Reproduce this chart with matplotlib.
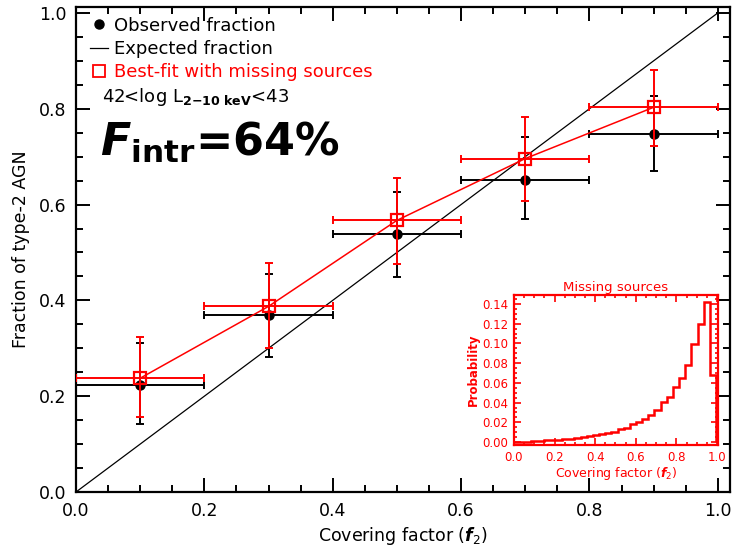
import numpy as np
import matplotlib.pyplot as plt
from matplotlib.lines import Line2D
from matplotlib.ticker import MultipleLocator

plt.rcParams['font.family'] = ['DejaVu Sans']
plt.rcParams['mathtext.fontset'] = 'dejavusans'

# Main panel data
f2 = [0.1, 0.3, 0.5, 0.7, 0.9]
f2_err = [0.1, 0.1, 0.1, 0.1, 0.1]

obs_frac = [0.223, 0.369, 0.5375, 0.652, 0.747]
obs_lo = [0.142, 0.281, 0.448, 0.569, 0.669]
obs_hi = [0.310, 0.456, 0.627, 0.742, 0.827]

fit_frac = [0.2375, 0.3875, 0.567, 0.696, 0.803]
fit_lo = [0.156, 0.300, 0.475, 0.608, 0.723]
fit_hi = [0.323, 0.477, 0.656, 0.783, 0.881]

expected = [0.0, 1.0]

# Inset histogram (missing sources)
hist_edges = np.linspace(-0.005, 0.995, 34)
hist_prob = [0.0, 0.0001, 0.0004, 0.0008, 0.0012, 0.0016, 0.002, 0.0025,
             0.003, 0.0036, 0.0042, 0.005, 0.006, 0.0068, 0.0078, 0.0088,
             0.0102, 0.0129, 0.0142, 0.018, 0.0203, 0.0231, 0.0278, 0.0322,
             0.0407, 0.0458, 0.0553, 0.0645, 0.078, 0.099, 0.120, 0.1417,
             0.068]

fig = plt.figure(figsize=(7.35, 5.52), dpi=100)
ax = fig.add_axes([0.1034, 0.1087, 0.8898, 0.8783])

ax.plot(expected, expected, color='black', lw=0.9, zorder=2)

obs_err = [np.subtract(obs_frac, obs_lo), np.subtract(obs_hi, obs_frac)]
ax.errorbar(f2, obs_frac, xerr=f2_err, yerr=obs_err, fmt='o', color='black',
            ms=6.5, elinewidth=1.4, capsize=3, capthick=1.4, zorder=3)

fit_err = [np.subtract(fit_frac, fit_lo), np.subtract(fit_hi, fit_frac)]
ax.errorbar(f2, fit_frac, xerr=f2_err, yerr=fit_err, fmt='none', ecolor='red',
            elinewidth=1.4, capsize=3, capthick=1.4, zorder=4)
ax.plot(f2, fit_frac, color='red', lw=1.1, marker='s', ms=9, mfc='none',
        mec='red', mew=1.6, zorder=5)

ax.set_xlim(0, 1.019)
ax.set_ylim(0, 1.012)
ax.xaxis.set_major_locator(MultipleLocator(0.2))
ax.yaxis.set_major_locator(MultipleLocator(0.2))
ax.xaxis.set_minor_locator(MultipleLocator(0.05))
ax.yaxis.set_minor_locator(MultipleLocator(0.05))
ax.xaxis.set_major_formatter(lambda v, p: f'{v:.1f}')
ax.yaxis.set_major_formatter(lambda v, p: f'{v:.1f}')
ax.tick_params(which='both', direction='in', top=True, right=True,
               width=1.4, labelsize=12.5)
ax.tick_params(which='major', length=10, pad=7)
ax.tick_params(which='minor', length=5)
for s in ax.spines.values():
    s.set_linewidth(1.6)

ax.set_xlabel(r'Covering factor ($\mathbfit{f}_{2}$)', fontsize=12.5, labelpad=4)
ax.set_ylabel('Fraction of type-2 AGN', fontsize=12.5, labelpad=6)

handles = [
    Line2D([], [], ls='none', marker='o', color='black', ms=6.5),
    Line2D([], [], color='black', lw=0.9),
    Line2D([], [], ls='none', marker='s', mfc='none', mec='red', mew=1.3, ms=9),
]
leg = ax.legend(handles, ['Observed fraction', 'Expected fraction',
                          'Best-fit with missing sources'],
                loc='upper left', bbox_to_anchor=(0.0, 1.01), frameon=False,
                fontsize=13, handlelength=1.0, handletextpad=0.3,
                labelspacing=0.28, borderaxespad=0.4)
leg.get_texts()[2].set_color('red')

ax.text(0.04, 0.814, r'42<log L$_{\mathbf{2{-}10\ keV}}$<43', transform=ax.transAxes,
        fontsize=13, va='center', ha='left')
ax.text(0.036, 0.722, r'$\mathbfit{F}_{\mathbf{intr}}$=64%', transform=ax.transAxes,
        fontsize=32, fontweight='bold', va='center', ha='left')

# Inset
axi = fig.add_axes([0.6993, 0.1938, 0.2776, 0.2717])
axi.stairs(hist_prob, hist_edges, color='red', lw=1.8, baseline=0)
axi.set_xlim(0, 1.005)
axi.set_ylim(-0.003, 0.149)
axi.xaxis.set_major_locator(MultipleLocator(0.2))
axi.yaxis.set_major_locator(MultipleLocator(0.02))
axi.xaxis.set_minor_locator(MultipleLocator(0.05))
axi.yaxis.set_minor_locator(MultipleLocator(0.005))
axi.xaxis.set_major_formatter(lambda v, p: f'{v:.1f}')
axi.yaxis.set_major_formatter(lambda v, p: f'{v:.2f}')
axi.tick_params(which='both', direction='in', top=True, right=True,
                color='red', labelcolor='red', width=1.2, labelsize=8.5)
axi.tick_params(which='major', length=5, pad=4)
axi.tick_params(which='minor', length=2.5)
for s in axi.spines.values():
    s.set_color('red')
    s.set_linewidth(1.6)
axi.set_title('Missing sources', color='red', fontsize=9.5, pad=3)
axi.set_xlabel(r'Covering factor ($\mathbfit{f}_{2}$)', color='red', fontsize=9,
               labelpad=1)
axi.set_ylabel('Probability', color='red', fontsize=8.5, fontweight='bold',
               labelpad=2)

fig.savefig('out.png', dpi=100)
